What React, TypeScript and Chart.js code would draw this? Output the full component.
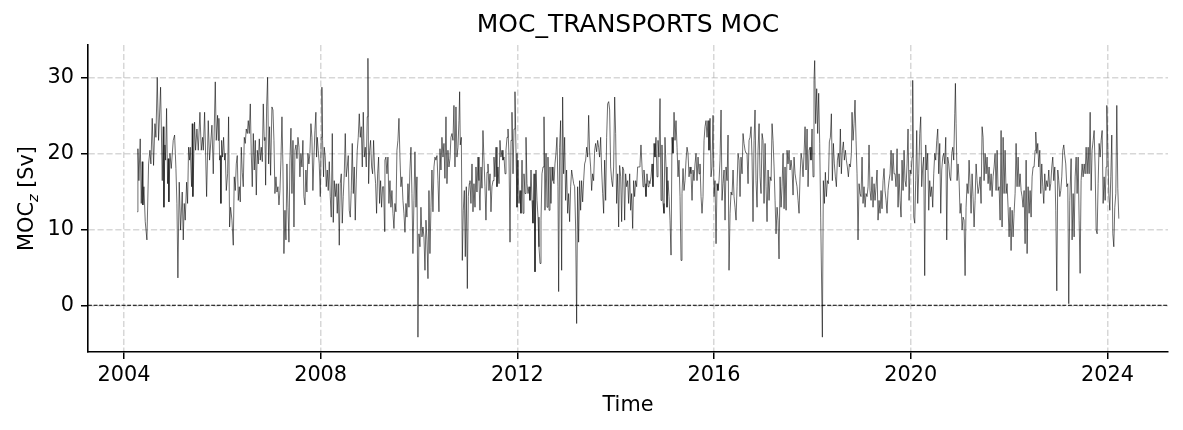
import React, { useEffect, useRef } from 'react';
import { Chart, registerables } from 'chart.js';

Chart.register(...registerables);

// ---- Data (decimal years, Sverdrups) ----
const timesA = [2004.271,2004.285,2004.305,2004.332,2004.353,2004.373,2004.386,2004.407,2004.434,2004.468,2004.502,2004.529,2004.549,2004.576,2004.603,2004.631,2004.651,2004.678,2004.705,2004.746,2004.780,2004.800,2004.814,2004.834,2004.848,2004.868,2004.888,2004.902,2004.915,2004.936,2004.963,2005.003,2005.031,2005.058,2005.078,2005.098,2005.125,2005.153,2005.186,2005.207,2005.227,2005.247,2005.275,2005.295,2005.315,2005.336,2005.349,2005.376,2005.390,2005.403,2005.437,2005.458,2005.485,2005.512,2005.546,2005.573,2005.600,2005.614,2005.641,2005.682,2005.715,2005.742,2005.790,2005.817];
const mocA = [12.3,20.6,16.4,21.9,13.4,18.9,13.2,15.6,11.0,8.6,18.6,20.4,18.6,24.6,18.4,23.9,22.1,30.0,21.7,28.7,16.4,23.5,12.9,21.1,19.1,25.9,16.0,19.3,13.6,20.0,18.0,21.7,22.4,18.0,13.4,3.6,16.2,9.9,14.9,8.6,13.4,11.2,16.2,13.4,20.8,19.1,20.8,15.6,23.9,14.3,24.1,20.4,23.2,20.4,25.4,20.4,22.1,20.4,25.4,14.3,24.3,19.1,23.7,17.3];

const timesB = [2005.858,2005.878,2005.905,2005.919,2005.932,2005.946,2005.959,2005.973,2005.987,2006.007,2006.027,2006.048,2006.061,2006.082,2006.109,2006.129,2006.149,2006.170,2006.197,2006.224,2006.244,2006.265,2006.285,2006.305,2006.326,2006.346,2006.366,2006.387,2006.407,2006.427,2006.448,2006.468,2006.488,2006.509,2006.529,2006.549,2006.570,2006.590,2006.610,2006.631,2006.651,2006.671,2006.692,2006.712,2006.732,2006.753,2006.773,2006.793,2006.814,2006.834,2006.854,2006.868,2006.882,2006.902,2006.922,2006.943,2006.963,2006.983,2007.010,2007.031,2007.051,2007.071,2007.092,2007.112,2007.132,2007.153,2007.173,2007.193,2007.214,2007.234,2007.254,2007.275,2007.295,2007.315,2007.336,2007.356,2007.376,2007.397,2007.417,2007.438,2007.458,2007.478,2007.499,2007.519,2007.539,2007.560];
const mocB = [29.4,21.7,25.0,21.7,24.6,19.1,19.7,13.4,21.7,19.5,22.1,19.1,20.0,15.1,17.3,24.8,10.3,12.9,11.2,7.9,16.9,15.1,18.6,19.7,13.8,15.6,13.6,20.8,17.5,15.6,22.1,21.3,23.2,22.6,24.3,22.6,26.5,20.0,15.6,22.6,17.8,21.7,14.5,20.4,18.6,21.9,19.1,20.8,18.9,26.5,21.7,22.1,15.8,26.1,30.0,18.6,23.5,17.1,26.1,25.7,21.7,14.7,16.9,14.9,15.6,13.2,15.1,19.1,24.8,18.2,6.8,12.5,8.6,18.6,12.9,8.3,19.1,23.3,14.7,21.7,10.3,20.4,21.1,19.3,22.1,20.8];

const timesC = [2007.579,2007.599,2007.620,2007.640,2007.660,2007.681,2007.701,2007.721,2007.742,2007.762,2007.782,2007.803,2007.823,2007.843,2007.864,2007.884,2007.904,2007.918,2007.932,2007.952,2007.972,2007.993,2008.013,2008.026,2008.040,2008.060,2008.074,2008.094,2008.115,2008.135,2008.155,2008.176,2008.196,2008.216,2008.237,2008.257,2008.277,2008.298,2008.318,2008.338,2008.359,2008.379,2008.399,2008.420,2008.440,2008.460,2008.481,2008.501,2008.521,2008.542,2008.562,2008.582,2008.603,2008.623,2008.643,2008.664,2008.684,2008.704,2008.725,2008.745,2008.765,2008.786,2008.806,2008.826,2008.847,2008.867,2008.887,2008.908,2008.928,2008.948,2008.962,2008.976,2008.996,2009.016,2009.037,2009.057,2009.077,2009.098,2009.118,2009.138,2009.159,2009.179,2009.199,2009.220,2009.240,2009.260,2009.281,2009.301];
const mocC = [16.9,20.0,18.2,21.7,14.3,13.2,17.8,14.9,20.0,18.6,20.0,23.9,22.1,15.1,19.5,23.0,25.4,19.5,22.1,20.4,18.6,14.3,22.1,28.7,21.7,16.9,20.8,19.5,15.6,17.8,15.1,18.9,14.3,11.6,22.6,10.9,16.4,14.3,16.0,12.1,16.0,7.9,16.0,17.3,10.8,14.3,17.3,22.6,16.9,18.2,19.7,12.5,11.6,15.1,21.3,14.7,18.2,11.2,16.5,20.4,22.1,25.2,22.1,23.5,18.2,25.4,19.5,20.8,18.2,24.8,32.5,16.0,20.4,21.7,18.2,17.3,21.7,17.8,16.0,12.1,17.3,19.5,13.4,16.4,12.9,15.6,15.6,9.7];

const timesD = [2009.308,2009.328,2009.349,2009.369,2009.389,2009.410,2009.430,2009.450,2009.471,2009.491,2009.511,2009.532,2009.552,2009.572,2009.593,2009.613,2009.633,2009.654,2009.674,2009.694,2009.715,2009.735,2009.755,2009.776,2009.796,2009.816,2009.837,2009.857,2009.877,2009.898,2009.918,2009.939,2009.959,2009.979,2009.999,2010.020,2010.040,2010.061,2010.081,2010.101,2010.122,2010.142,2010.162,2010.183,2010.203,2010.223,2010.244,2010.264,2010.284,2010.305,2010.325,2010.345,2010.366,2010.386,2010.406,2010.427,2010.447,2010.467,2010.488,2010.508,2010.528,2010.549,2010.569,2010.589,2010.610,2010.630,2010.650,2010.671,2010.691,2010.711,2010.732,2010.752,2010.772,2010.793,2010.813,2010.827,2010.840,2010.861,2010.881,2010.901,2010.922,2010.942,2010.962,2010.983,2011.003,2011.023];
const mocD = [19.1,19.5,17.3,19.5,13.4,16.4,12.9,15.1,12.1,10.1,13.4,12.3,20.4,21.7,24.6,19.5,15.6,16.9,13.8,12.1,9.6,13.4,11.6,16.0,12.9,17.8,20.8,14.7,6.8,13.8,20.2,12.9,16.9,-4.2,9.4,7.7,12.9,9.0,10.3,9.0,4.6,11.2,8.6,3.5,15.1,6.8,12.9,17.8,12.3,18.2,19.5,19.1,19.7,16.4,12.3,20.6,17.8,22.1,19.5,21.3,16.7,24.8,16.0,20.4,18.2,19.3,22.1,22.6,21.7,26.3,18.2,26.1,19.5,20.8,24.3,28.1,21.1,22.1,5.9,12.5,15.1,6.4,15.6,2.2,14.3,16.0];

const timesE = [2011.037,2011.057,2011.078,2011.098,2011.118,2011.139,2011.159,2011.179,2011.200,2011.220,2011.240,2011.261,2011.281,2011.301,2011.322,2011.342,2011.362,2011.383,2011.403,2011.423,2011.444,2011.464,2011.484,2011.505,2011.525,2011.545,2011.566,2011.586,2011.606,2011.627,2011.647,2011.667,2011.688,2011.708,2011.729,2011.749,2011.769,2011.790,2011.810,2011.830,2011.851,2011.871,2011.891,2011.912,2011.932,2011.952,2011.973,2011.993,2012.013,2012.034,2012.054,2012.074,2012.095,2012.115,2012.135,2012.156,2012.176,2012.196,2012.217,2012.237,2012.257,2012.278,2012.298,2012.318,2012.339,2012.359,2012.379,2012.400,2012.420,2012.440,2012.461,2012.481,2012.501,2012.522,2012.542,2012.562,2012.583,2012.603,2012.623,2012.644,2012.664,2012.684,2012.705,2012.725,2012.745];
const mocE = [16.4,13.4,18.6,12.3,16.0,12.9,18.2,14.9,19.5,16.4,12.5,18.2,15.4,23.0,19.1,15.6,11.2,17.5,18.6,15.1,17.3,12.3,15.6,16.4,19.5,16.9,20.8,15.6,18.2,16.0,21.7,19.5,20.4,19.1,19.5,17.3,20.4,22.1,23.2,19.7,8.3,21.7,25.4,17.3,23.2,28.1,20.0,12.9,19.1,13.4,15.1,12.1,19.1,12.1,17.3,14.7,22.1,16.0,14.7,15.6,13.8,17.8,13.8,10.8,17.3,4.4,17.8,13.8,11.6,7.7,5.5,11.2,17.3,18.2,24.8,12.5,20.0,12.9,19.5,12.5,18.2,13.4,18.2,16.4,16.0];

const timesF = [2012.765,2012.785,2012.806,2012.826,2012.840,2012.860,2012.880,2012.901,2012.921,2012.941,2012.962,2012.982,2013.002,2013.023,2013.043,2013.063,2013.084,2013.104,2013.124,2013.145,2013.165,2013.185,2013.206,2013.226,2013.246,2013.267,2013.287,2013.307,2013.328,2013.348,2013.368,2013.389,2013.409,2013.429,2013.450,2013.470,2013.490,2013.511,2013.531,2013.551,2013.572,2013.592,2013.612,2013.633,2013.653,2013.673,2013.694,2013.714,2013.735,2013.755,2013.775,2013.796,2013.816,2013.836,2013.857,2013.877,2013.897,2013.918,2013.938,2013.958,2013.979,2013.999,2014.019,2014.040,2014.060,2014.080,2014.101,2014.121,2014.141,2014.162,2014.182,2014.202,2014.223,2014.243,2014.263,2014.284,2014.304,2014.324,2014.345,2014.365,2014.385,2014.406,2014.426,2014.446,2014.467,2014.487];
const mocF = [18.6,20.0,22.1,15.6,1.8,20.8,24.3,4.6,27.4,17.3,22.1,13.8,17.8,12.1,14.7,11.0,15.6,17.8,16.9,16.0,15.6,10.3,-2.4,15.6,8.3,16.4,12.5,16.4,13.6,16.4,18.6,19.1,20.8,19.5,25.0,20.0,18.2,15.1,17.3,16.4,20.4,21.3,20.2,21.7,20.8,19.5,22.1,17.8,14.7,12.1,19.1,13.8,22.1,26.5,26.8,25.7,18.2,16.4,15.6,18.2,27.4,22.6,13.4,17.3,10.3,18.4,16.9,11.0,18.2,17.8,11.2,17.3,15.6,16.4,13.4,17.3,12.5,14.7,10.1,16.4,14.3,16.4,15.6,18.2,18.2,18.2];

const timesG = [2014.494,2014.514,2014.535,2014.555,2014.575,2014.596,2014.616,2014.636,2014.657,2014.677,2014.697,2014.718,2014.738,2014.758,2014.779,2014.799,2014.819,2014.840,2014.860,2014.880,2014.901,2014.921,2014.941,2014.962,2014.982,2015.002,2015.023,2015.043,2015.063,2015.084,2015.104,2015.125,2015.145,2015.165,2015.186,2015.206,2015.226,2015.247,2015.267,2015.287,2015.308,2015.328,2015.348,2015.369,2015.389,2015.409,2015.430,2015.450,2015.470,2015.491,2015.511,2015.531,2015.552,2015.572,2015.592,2015.613,2015.633,2015.653,2015.674,2015.694,2015.714,2015.735,2015.755,2015.775,2015.796,2015.816,2015.836,2015.857,2015.877,2015.897,2015.918,2015.938,2015.958,2015.979,2015.999,2016.019,2016.040,2016.060,2016.080,2016.101,2016.121,2016.142,2016.162,2016.182,2016.203];
const mocG = [18.6,21.1,18.2,15.6,17.8,16.0,14.3,17.3,15.6,16.4,16.0,16.9,18.6,15.6,21.3,19.5,22.1,16.9,21.7,19.5,27.2,13.8,21.1,13.4,12.1,22.1,18.2,12.9,16.4,14.3,11.2,6.6,22.1,20.0,25.4,21.7,24.3,20.8,16.9,19.1,14.3,5.9,14.7,18.0,15.1,16.4,19.1,20.8,20.0,16.9,18.2,17.3,13.8,17.8,16.4,18.6,20.0,16.4,19.5,17.3,18.6,14.3,12.1,14.3,21.7,23.5,24.3,22.1,24.3,20.4,24.6,16.9,18.2,25.0,14.3,16.4,8.1,16.0,15.1,16.4,19.1,25.7,13.8,16.0,17.8];

const timesH = [2016.223,2016.243,2016.264,2016.284,2016.304,2016.325,2016.345,2016.365,2016.386,2016.406,2016.426,2016.447,2016.467,2016.487,2016.508,2016.528,2016.548,2016.569,2016.589,2016.609,2016.630,2016.650,2016.670,2016.691,2016.711,2016.731,2016.752,2016.772,2016.792,2016.813,2016.833,2016.853,2016.874,2016.894,2016.915,2016.935,2016.955,2016.976,2016.996,2017.016,2017.037,2017.057,2017.077,2017.098,2017.118,2017.138,2017.159,2017.179,2017.199,2017.220,2017.240,2017.260,2017.281,2017.301,2017.321,2017.342,2017.362,2017.382,2017.403,2017.423,2017.443,2017.464,2017.484,2017.504,2017.525,2017.545,2017.565,2017.586,2017.606,2017.626,2017.647,2017.667,2017.687,2017.708,2017.728,2017.748,2017.769,2017.789,2017.809,2017.830,2017.850,2017.870,2017.891,2017.911,2017.932];
const mocH = [11.2,18.2,16.4,22.4,4.6,12.1,14.9,14.5,17.8,14.3,12.9,11.2,15.6,20.0,19.1,14.3,19.5,17.3,22.6,21.3,20.4,20.0,20.0,16.0,21.7,22.1,23.5,19.5,11.0,21.7,25.7,16.4,12.9,20.4,23.9,16.9,14.7,22.6,21.7,13.4,21.3,15.6,11.0,17.8,13.8,16.9,16.4,23.9,21.7,18.2,13.8,9.4,12.9,11.2,6.1,16.9,12.9,15.6,20.0,12.7,18.2,12.5,20.4,18.6,20.4,17.8,19.1,17.8,14.5,19.5,17.3,16.4,15.6,13.8,12.1,16.9,20.0,19.1,16.9,20.0,23.5,17.8,23.2,15.6,20.4];

const timesI = [2017.951,2017.971,2017.992,2018.012,2018.032,2018.046,2018.066,2018.087,2018.107,2018.127,2018.148,2018.168,2018.202,2018.222,2018.243,2018.263,2018.283,2018.304,2018.324,2018.344,2018.365,2018.385,2018.405,2018.426,2018.446,2018.466,2018.487,2018.507,2018.527,2018.548,2018.568,2018.588,2018.609,2018.629,2018.649,2018.670,2018.690,2018.710,2018.731,2018.751,2018.771,2018.792,2018.805,2018.826,2018.846,2018.866,2018.887,2018.907,2018.927,2018.948,2018.968,2018.988,2019.009,2019.029,2019.049,2019.070,2019.090,2019.110,2019.131,2019.151,2019.171,2019.192,2019.212,2019.232,2019.253,2019.273,2019.293,2019.314,2019.334,2019.354,2019.375,2019.395,2019.415,2019.436,2019.456,2019.476,2019.497,2019.517,2019.537,2019.558,2019.578,2019.599,2019.619,2019.639,2019.660];
const mocI = [20.8,19.1,23.2,16.9,29.6,32.2,23.9,28.5,22.6,27.9,21.3,11.6,-4.2,16.4,13.4,17.5,14.3,16.4,16.0,21.5,22.1,25.2,16.4,21.3,18.6,16.9,15.6,19.1,20.0,18.2,23.2,17.3,20.4,21.5,19.1,20.4,19.1,18.2,16.9,18.6,18.2,20.0,25.4,21.7,23.9,27.0,21.7,17.3,8.6,16.0,14.7,14.3,19.5,13.4,15.6,12.9,14.7,14.3,15.6,21.1,15.1,13.8,16.9,12.9,16.0,13.8,15.6,17.8,11.2,13.8,12.1,15.1,12.7,16.4,18.0,15.1,13.8,12.1,15.1,16.4,17.3,20.4,16.4,20.0,17.3];

const timesJ = [2019.680,2019.700,2019.721,2019.741,2019.761,2019.782,2019.802,2019.822,2019.843,2019.863,2019.883,2019.904,2019.924,2019.944,2019.965,2019.985,2020.005,2020.026,2020.039,2020.060,2020.080,2020.100,2020.121,2020.141,2020.161,2020.182,2020.202,2020.222,2020.243,2020.263,2020.283,2020.304,2020.324,2020.344,2020.365,2020.385,2020.405,2020.426,2020.446,2020.467,2020.487,2020.507,2020.528,2020.548,2020.568,2020.589,2020.609,2020.629,2020.650,2020.670,2020.690,2020.711,2020.731,2020.751,2020.772,2020.792,2020.812,2020.833,2020.853,2020.873,2020.894,2020.907,2020.921,2020.941,2020.961,2020.982,2021.002,2021.022,2021.043,2021.063,2021.083,2021.104,2021.124,2021.144,2021.165,2021.185,2021.205,2021.226,2021.246,2021.266,2021.287,2021.307,2021.328,2021.348,2021.368,2021.389];
const mocJ = [17.3,15.6,20.6,12.9,17.3,13.8,11.6,19.1,15.1,20.4,16.4,15.6,18.6,23.2,13.8,17.8,17.3,19.5,29.6,11.6,10.8,16.4,23.0,13.4,17.3,22.6,24.8,15.6,18.2,19.5,3.9,21.1,17.8,20.0,12.5,16.4,14.3,15.6,12.9,17.3,20.0,19.1,21.7,23.2,17.3,21.3,12.1,17.8,19.5,20.0,18.6,22.1,8.6,19.5,18.6,16.9,16.4,20.0,20.8,19.1,25.2,29.2,23.9,16.4,18.6,16.4,12.1,13.4,9.9,11.6,11.2,3.9,12.9,16.0,14.7,19.1,16.0,12.1,17.3,14.3,10.3,13.8,18.6,16.4,14.7,15.6];

const timesK = [2021.409,2021.429,2021.450,2021.470,2021.490,2021.511,2021.531,2021.551,2021.572,2021.592,2021.612,2021.633,2021.653,2021.673,2021.694,2021.714,2021.734,2021.755,2021.775,2021.795,2021.816,2021.836,2021.856,2021.877,2021.897,2021.917,2021.938,2021.958,2021.978,2021.999,2022.019,2022.039,2022.060,2022.080,2022.100,2022.121,2022.141,2022.161,2022.182,2022.202,2022.222,2022.243,2022.263,2022.283,2022.304,2022.324,2022.345,2022.365,2022.385,2022.406,2022.426,2022.446,2022.467,2022.487,2022.507,2022.528,2022.541,2022.562,2022.582,2022.602,2022.623,2022.643,2022.663,2022.684,2022.704,2022.724,2022.745,2022.765,2022.785,2022.806,2022.826,2022.846,2022.867,2022.887,2022.907,2022.928,2022.948,2022.969,2022.989,2023.009,2023.030,2023.050,2023.070,2023.091,2023.111,2023.131,2023.151,2023.172,2023.192,2023.212,2023.233];
const mocK = [16.9,13.4,23.5,22.1,16.4,20.0,17.3,19.5,16.0,18.2,15.1,17.3,14.3,16.9,18.2,20.0,15.1,20.4,15.1,15.6,11.2,23.0,10.3,22.1,14.7,20.4,14.7,16.0,12.9,9.0,12.9,7.2,12.5,9.0,12.1,14.7,21.3,15.6,19.5,15.6,17.3,15.1,14.3,12.9,15.1,8.1,19.1,6.8,15.6,12.1,15.1,11.6,16.9,18.2,18.2,20.4,22.8,20.0,21.3,18.2,20.4,14.7,18.6,15.6,13.4,17.3,15.1,16.4,15.6,17.8,15.1,16.0,18.2,19.5,16.4,18.2,12.5,1.9,17.8,16.4,14.3,15.1,16.9,20.4,21.1,19.7,18.6,15.6,16.0,0.2,13.8];

const timesL = [2023.260,2023.280,2023.301,2023.321,2023.342,2023.362,2023.382,2023.403,2023.423,2023.443,2023.463,2023.484,2023.504,2023.525,2023.545,2023.565,2023.586,2023.606,2023.626,2023.647,2023.667,2023.687,2023.708,2023.728,2023.748,2023.769,2023.789,2023.809,2023.830,2023.850,2023.870,2023.891,2023.911,2023.931,2023.952,2023.972,2023.986,2024.006,2024.026,2024.047,2024.067,2024.087,2024.108,2024.128,2024.148,2024.169,2024.189,2024.209,2024.230];
const mocL = [19.3,8.6,14.7,9.0,16.9,19.5,14.7,19.5,11.2,4.2,16.4,18.6,16.9,18.6,17.3,20.8,17.3,20.8,17.3,25.4,15.1,20.4,21.7,23.0,18.2,9.9,9.4,16.0,21.3,19.5,21.7,23.0,13.4,16.9,13.8,18.2,26.3,20.8,14.7,12.5,16.9,22.4,9.4,7.7,12.9,14.7,26.3,15.4,11.4];

const timeSegments = [timesA, timesB, timesC, timesD, timesE, timesF, timesG, timesH, timesI, timesJ, timesK, timesL];
const mocSegments = [mocA, mocB, mocC, mocD, mocE, mocF, mocG, mocH, mocI, mocJ, mocK, mocL];

const xTickValues = [2004, 2008, 2012, 2016, 2020, 2024];
const yTickValues = [0, 10, 20, 30];
const xRange = [2003.27, 2025.23];
const yRange = [-6.15, 34.25];

const chartTitle = 'MOC_TRANSPORTS MOC';
const xAxisLabel = 'Time';
const yLabelMain = 'MOC';
const yLabelSub = 'z';
const yLabelTail = ' [Sv]';

const FONT = '"DejaVu Sans", "Liberation Sans", sans-serif';

export default function App() {
  const canvasRef = useRef<HTMLCanvasElement | null>(null);

  useEffect(() => {
    const canvas = canvasRef.current;
    if (!canvas) return;

    const points: { x: number; y: number }[] = [];
    timeSegments.forEach((ts, k) => {
      const vs = mocSegments[k];
      const n = Math.min(ts.length, vs.length);
      for (let i = 0; i < n; i++) points.push({ x: ts[i], y: vs[i] });
    });

    const textPlugin = {
      id: 'mplText',
      beforeDatasetsDraw(chart: any) {
        const { ctx, chartArea } = chart;
        const y0 = chart.scales.y.getPixelForValue(0);
        ctx.save();
        ctx.strokeStyle = '#000';
        ctx.lineWidth = 1;
        ctx.setLineDash([3.9, 1.7]);
        ctx.beginPath();
        ctx.moveTo(chartArea.left, y0);
        ctx.lineTo(chartArea.right, y0);
        ctx.stroke();
        ctx.restore();
      },
      afterDraw(chart: any) {
        const { ctx, chartArea } = chart;
        const cx = (chartArea.left + chartArea.right) / 2;
        ctx.save();
        ctx.fillStyle = '#000';
        ctx.font = `25px ${FONT}`;
        ctx.textAlign = 'center';
        ctx.textBaseline = 'alphabetic';
        ctx.fillText(chartTitle, cx, 32);
        ctx.font = `20.8px ${FONT}`;
        ctx.fillText(xAxisLabel, cx, 411);
        const cy = (chartArea.top + chartArea.bottom) / 2;
        ctx.translate(26, cy);
        ctx.rotate(-Math.PI / 2);
        ctx.textAlign = 'left';
        const mainFont = `20.8px ${FONT}`;
        const subFont = `italic 14.6px ${FONT}`;
        ctx.font = mainFont;
        const w1 = ctx.measureText(yLabelMain).width;
        const w3 = ctx.measureText(yLabelTail).width;
        ctx.font = subFont;
        const w2 = ctx.measureText(yLabelSub).width;
        let x = -(w1 + w2 + w3) / 2;
        const base = 7;
        ctx.font = mainFont;
        ctx.fillText(yLabelMain, x, base);
        x += w1;
        ctx.font = subFont;
        ctx.fillText(yLabelSub, x, base + 4.5);
        x += w2;
        ctx.font = mainFont;
        ctx.fillText(yLabelTail, x, base);
        ctx.restore();
      },
    };

    const gridCommon = {
      color: 'rgba(176,176,176,0.5)',
      lineWidth: 1.5,
      drawTicks: true,
      tickLength: 7,
      tickColor: '#000',
      tickWidth: 1.5,
      tickBorderDash: [],
    };

    const chart = new Chart(canvas, {
      type: 'line',
      data: {
        datasets: [
          {
            data: points,
            borderColor: 'rgba(0,0,0,0.68)',
            borderWidth: 0.85,
            pointRadius: 0,
            pointHoverRadius: 0,
            tension: 0,
            fill: false,
          },
        ],
      },
      options: {
        animation: false,
        responsive: false,
        devicePixelRatio: 1,
        parsing: false,
        normalized: true,
        events: [],
        layout: { padding: { top: 45, right: 15, left: 0, bottom: 0 } },
        plugins: {
          legend: { display: false },
          tooltip: { enabled: false },
          title: { display: false },
        },
        scales: {
          x: {
            type: 'linear',
            min: xRange[0],
            max: xRange[1],
            afterBuildTicks: (s: any) => {
              s.ticks = xTickValues.map((v) => ({ value: v }));
            },
            afterFit: (s: any) => {
              s.height = 78;
            },
            ticks: {
              callback: (v: any) => String(v),
              color: '#000',
              font: { family: FONT, size: 20.8, lineHeight: 1 },
              padding: 6.5,
              maxRotation: 0,
              autoSkip: false,
            },
            grid: gridCommon,
            border: { display: true, color: '#000', width: 1.6, dash: [6.2, 2.7] },
          },
          y: {
            type: 'linear',
            min: yRange[0],
            max: yRange[1],
            afterBuildTicks: (s: any) => {
              s.ticks = yTickValues.map((v) => ({ value: v }));
            },
            afterFit: (s: any) => {
              s.width = 88;
            },
            ticks: {
              callback: (v: any) => String(v),
              color: '#000',
              font: { family: FONT, size: 20.8, lineHeight: 1 },
              padding: 7,
              autoSkip: false,
            },
            grid: gridCommon,
            border: { display: true, color: '#000', width: 1.6, dash: [6.2, 2.7] },
          },
        },
      },
      plugins: [textPlugin],
    } as any);

    return () => chart.destroy();
  }, []);

  return (
    <div style={{ position: 'fixed', left: 0, top: 0, width: 1183, height: 430, background: '#fff' }}>
      <canvas ref={canvasRef} width={1183} height={430} style={{ display: 'block', width: 1183, height: 430 }} />
    </div>
  );
}
